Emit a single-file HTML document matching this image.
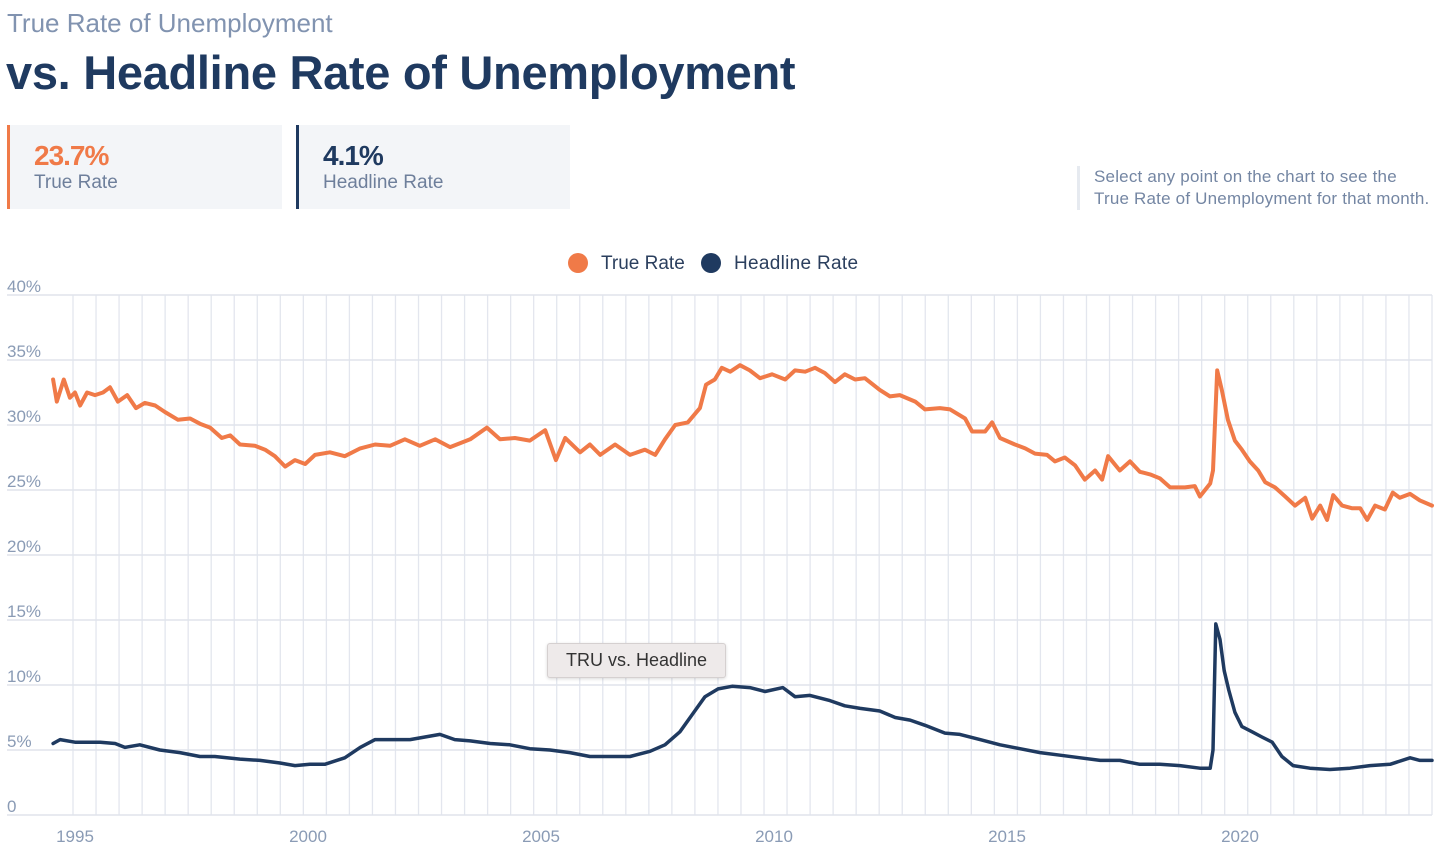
<!DOCTYPE html>
<html><head><meta charset="utf-8">
<style>
body{margin:0;width:1456px;height:866px;background:#fff;font-family:"Liberation Sans",sans-serif;overflow:hidden;position:relative}
.sub{position:absolute;left:7px;top:8px;font-size:26px;color:#8193B0}
.title{position:absolute;left:6px;top:45px;font-size:47px;font-weight:bold;color:#1F3A60;letter-spacing:-0.3px}
.card{position:absolute;top:125px;height:84px;background:#F3F5F8}
.card .v{position:absolute;left:24px;top:15px;font-size:28px;font-weight:bold;letter-spacing:-1px}
.card .l{position:absolute;left:24px;top:47px;font-size:19px;color:#6E7F9B}
.note{position:absolute;left:1077px;top:166px;border-left:3px solid #E6EAF0;padding-left:14px;font-size:17px;line-height:22px;color:#7486A3;white-space:nowrap;letter-spacing:0.2px}
.tip{position:absolute;left:547px;top:643px;width:177px;height:33px;background:#EEEAEA;border:1px solid #D5D0D0;border-radius:3px;font-size:18px;color:#333;text-align:center;line-height:33px;box-shadow:0 1px 3px rgba(0,0,0,.15)}
</style></head><body>
<div class="sub">True Rate of Unemployment</div>
<div class="title">vs. Headline Rate of Unemployment</div>
<div class="card" style="left:7px;width:272px;border-left:3px solid #F07A48">
<div class="v" style="color:#F07A48">23.7%</div>
<div class="l">True Rate</div></div>
<div class="card" style="left:296px;width:271px;border-left:3px solid #1F3A60">
<div class="v" style="color:#1F3A60">4.1%</div>
<div class="l">Headline Rate</div></div>
<div class="note">Select any point on the chart to see the<br>True Rate of Unemployment for that month.</div>
<svg id="chart" width="1456" height="866" style="position:absolute;left:0;top:0"></svg>
<div class="tip">TRU vs. Headline</div>
<script>
const yTicks=[0,5,10,15,20,25,30,35,40];
const yTickLabels=["0","5%","10%","15%","20%","25%","30%","35%","40%"];
const xTicks=[1995,2000,2005,2010,2015,2020];
const trueYears=[1994.53,1994.61,1994.76,1994.89,1995.00,1995.11,1995.26,1995.43,1995.60,1995.75,1995.92,1996.12,1996.31,1996.50,1996.72,1996.93,1997.21,1997.47,1997.68,1997.90,1998.15,1998.33,1998.54,1998.86,1999.08,1999.29,1999.51,1999.72,1999.94,2000.15,2000.47,2000.79,2001.12,2001.44,2001.76,2002.08,2002.40,2002.73,2003.05,2003.48,2003.84,2004.12,2004.44,2004.76,2005.09,2005.32,2005.52,2005.84,2006.05,2006.27,2006.59,2006.91,2007.23,2007.45,2007.66,2007.88,2008.15,2008.41,2008.54,2008.73,2008.88,2009.06,2009.27,2009.48,2009.70,2009.96,2010.24,2010.45,2010.67,2010.88,2011.09,2011.31,2011.52,2011.74,2011.95,2012.27,2012.49,2012.70,2013.03,2013.24,2013.56,2013.78,2014.10,2014.25,2014.53,2014.68,2014.85,2015.17,2015.39,2015.60,2015.86,2016.03,2016.24,2016.46,2016.67,2016.89,2017.04,2017.17,2017.42,2017.64,2017.85,2018.07,2018.28,2018.50,2018.82,2019.03,2019.14,2019.36,2019.42,2019.51,2019.61,2019.74,2019.89,2020.04,2020.21,2020.39,2020.54,2020.75,2020.97,2021.18,2021.40,2021.55,2021.72,2021.87,2022.00,2022.19,2022.40,2022.58,2022.73,2022.90,2023.11,2023.28,2023.43,2023.65,2023.86,2024.12];
const trueValues=[33.5,31.8,33.5,32.1,32.5,31.5,32.5,32.3,32.5,32.9,31.8,32.3,31.3,31.7,31.5,31.0,30.4,30.5,30.1,29.8,29.0,29.2,28.5,28.4,28.1,27.6,26.8,27.3,27.0,27.7,27.9,27.6,28.2,28.5,28.4,28.9,28.4,28.9,28.3,28.9,29.8,28.9,29.0,28.8,29.6,27.3,29.0,27.9,28.5,27.7,28.5,27.7,28.1,27.7,28.9,30.0,30.2,31.3,33.1,33.5,34.4,34.1,34.6,34.2,33.6,33.9,33.5,34.2,34.1,34.4,34.0,33.3,33.9,33.5,33.6,32.7,32.2,32.3,31.8,31.2,31.3,31.2,30.5,29.5,29.5,30.2,29.0,28.5,28.2,27.8,27.7,27.2,27.5,26.9,25.8,26.5,25.8,27.6,26.5,27.2,26.4,26.2,25.9,25.2,25.2,25.3,24.5,25.5,26.5,34.2,32.7,30.4,28.8,28.1,27.2,26.5,25.6,25.2,24.5,23.8,24.4,22.8,23.8,22.7,24.6,23.8,23.6,23.6,22.7,23.8,23.5,24.8,24.4,24.7,24.2,23.8];
const headYears=[1994.53,1994.68,1995.00,1995.54,1995.86,1996.07,1996.39,1996.82,1997.25,1997.68,1998.00,1998.54,1998.97,1999.40,1999.72,2000.04,2000.36,2000.79,2001.12,2001.44,2001.87,2002.19,2002.51,2002.83,2003.15,2003.48,2003.91,2004.33,2004.76,2005.19,2005.62,2006.05,2006.48,2006.91,2007.34,2007.66,2007.98,2008.24,2008.52,2008.80,2009.10,2009.48,2009.81,2010.19,2010.45,2010.77,2011.20,2011.52,2011.85,2012.27,2012.60,2012.92,2013.24,2013.67,2013.99,2014.42,2014.85,2015.28,2015.71,2016.14,2016.57,2017.00,2017.42,2017.85,2018.28,2018.71,2019.14,2019.36,2019.42,2019.48,2019.57,2019.66,2019.76,2019.89,2020.04,2020.26,2020.47,2020.69,2020.90,2021.14,2021.50,2021.93,2022.36,2022.79,2023.22,2023.65,2023.86,2024.12];
const headValues=[5.5,5.8,5.6,5.6,5.5,5.2,5.4,5.0,4.8,4.5,4.5,4.3,4.2,4.0,3.8,3.9,3.9,4.4,5.2,5.8,5.8,5.8,6.0,6.2,5.8,5.7,5.5,5.4,5.1,5.0,4.8,4.5,4.5,4.5,4.9,5.4,6.4,7.7,9.1,9.7,9.9,9.8,9.5,9.8,9.1,9.2,8.8,8.4,8.2,8.0,7.5,7.3,6.9,6.3,6.2,5.8,5.4,5.1,4.8,4.6,4.4,4.2,4.2,3.9,3.9,3.8,3.6,3.6,5.0,14.7,13.5,11.1,9.6,7.9,6.8,6.4,6.0,5.6,4.5,3.8,3.6,3.5,3.6,3.8,3.9,4.4,4.2,4.2];

const NS='http://www.w3.org/2000/svg';
const svg=document.getElementById('chart');
const X0=7,X1=1432,Y0=815,PX_PER=13;
function xs(t){return 75+(t-1995)*46.6;}
function ys(v){return Y0-v*PX_PER;}
function mk(tag,attrs){const e=document.createElementNS(NS,tag);for(const k in attrs)e.setAttribute(k,attrs[k]);svg.appendChild(e);return e;}
for(let i=0;i<=59;i++){const gx=73+i*(X1-73)/59;
const g=mk('line',{x1:gx,x2:gx,y1:ys(40),y2:Y0,stroke:'#E3E6EE','stroke-width':1.3});

}
yTicks.forEach((v,i)=>{
const g=mk('line',{x1:X0,x2:X1,y1:ys(v),y2:ys(v),stroke:'#E0E4EC','stroke-width':1.5});


const t=mk('text',{x:X0,y:ys(v)-3,'font-size':17,fill:'#8A9BB5','font-family':'Liberation Sans, sans-serif'});
t.textContent=yTickLabels[i];

});
xTicks.forEach(y=>{
const t=mk('text',{x:xs(y),y:842,'font-size':17,fill:'#8A9BB5','text-anchor':'middle','font-family':'Liberation Sans, sans-serif'});
t.textContent=String(y);

});
function path(ys_,vs,color,w,name){
let d='';ys_.forEach((t,i)=>{d+=(i?'L':'M')+xs(t).toFixed(1)+','+ys(vs[i]).toFixed(1);});
const p=mk('path',{d:d,fill:'none',stroke:color,'stroke-width':w,'stroke-linejoin':'round','stroke-linecap':'round'});

}
path(trueYears,trueValues,'#F07A48',4,'true-rate-line');
path(headYears,headValues,'#1F3A60',3.5,'headline-rate-line');
const c1=mk('circle',{cx:578,cy:263,r:10,fill:'#F07A48'});


const t1=mk('text',{x:601,y:269,'font-size':19,fill:'#2B3F5E','font-family':'Liberation Sans, sans-serif'});t1.textContent='True Rate';


const c2=mk('circle',{cx:711,cy:263,r:10,fill:'#1F3A60'});


const t2=mk('text',{x:734,y:269,'font-size':19,fill:'#2B3F5E','font-family':'Liberation Sans, sans-serif','letter-spacing':'0.3'});t2.textContent='Headline Rate';


</script>
</body></html>
